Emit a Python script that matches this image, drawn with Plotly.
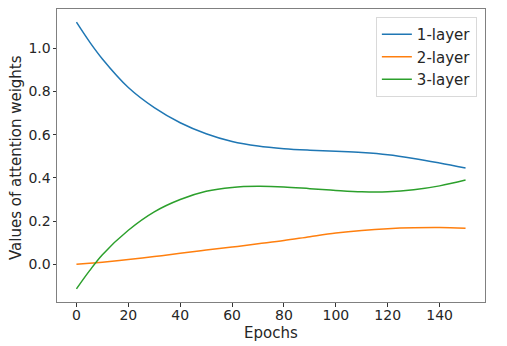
import plotly.graph_objects as go

epochs = [0, 5, 10, 20, 30, 40, 50, 60, 70, 80, 90, 100, 110, 120, 130, 140, 150]
layer1 = [1.12, 1.03, 0.95, 0.818, 0.725, 0.655, 0.604, 0.568, 0.547, 0.535, 0.528, 0.523, 0.517, 0.507, 0.49, 0.469, 0.446]
layer2 = [0.0, 0.005, 0.01, 0.022, 0.036, 0.051, 0.066, 0.08, 0.095, 0.11, 0.128, 0.145, 0.157, 0.165, 0.169, 0.17, 0.167]
layer3 = [-0.113, -0.03, 0.045, 0.158, 0.243, 0.3, 0.338, 0.356, 0.361, 0.358, 0.35, 0.342, 0.336, 0.336, 0.345, 0.363, 0.39]

names = ["1-layer", "2-layer", "3-layer"]
colors = ["#1f77b4", "#ff7f0e", "#2ca02c"]

fig = go.Figure()
for name, vals, c in zip(names, [layer1, layer2, layer3], colors):
    fig.add_trace(go.Scatter(x=epochs, y=vals, mode="lines", name=name,
                             line=dict(color=c, width=1.5, shape="spline", smoothing=1.0)))

font = dict(family="DejaVu Sans", size=14, color="#262626")
fig.update_layout(
    width=507, height=346,
    margin=dict(l=57, r=22, t=9, b=44, autoexpand=False),
    paper_bgcolor="white", plot_bgcolor="white",
    font=font,
    showlegend=True,
    legend=dict(x=0.981, y=0.973, xanchor="right", yanchor="top",
                bgcolor="white", bordercolor="#d9d9d9", borderwidth=1,
                font=dict(family="DejaVu Sans", size=15, color="#262626"),
                tracegroupgap=0),
)
fig.update_xaxes(range=[-7.5, 157.5], tickvals=[0, 20, 40, 60, 80, 100, 120, 140],
                 automargin=False, ticklabelstandoff=-3,
                 showgrid=False, zeroline=False, showline=True, linecolor="#808080",
                 linewidth=1, mirror=True, ticks="outside", ticklen=3.5, tickcolor="#333",
                 tickfont=dict(size=14))
fig.update_yaxes(range=[-0.174, 1.181], tickvals=[0.0, 0.2, 0.4, 0.6, 0.8, 1.0],
                 tickformat=".1f", automargin=False, ticklabelstandoff=-1,
                 showgrid=False, zeroline=False, showline=True, linecolor="#808080",
                 linewidth=1, mirror=True, ticks="outside", ticklen=3.5, tickcolor="#333",
                 tickfont=dict(size=14))
fig.add_annotation(text="Epochs", xref="paper", yref="paper", x=0.5, y=-0.106,
                   xanchor="center", yanchor="middle", showarrow=False,
                   font=dict(size=15))
fig.add_annotation(text="Values of attention weights", xref="paper", yref="paper",
                   x=-0.097, y=0.493, xanchor="center", yanchor="middle",
                   textangle=-90, showarrow=False, font=dict(size=15))

fig.write_html("out.html", config={"displayModeBar": False},
               post_script="document.body.style.margin='0';document.body.style.overflow='hidden';")
